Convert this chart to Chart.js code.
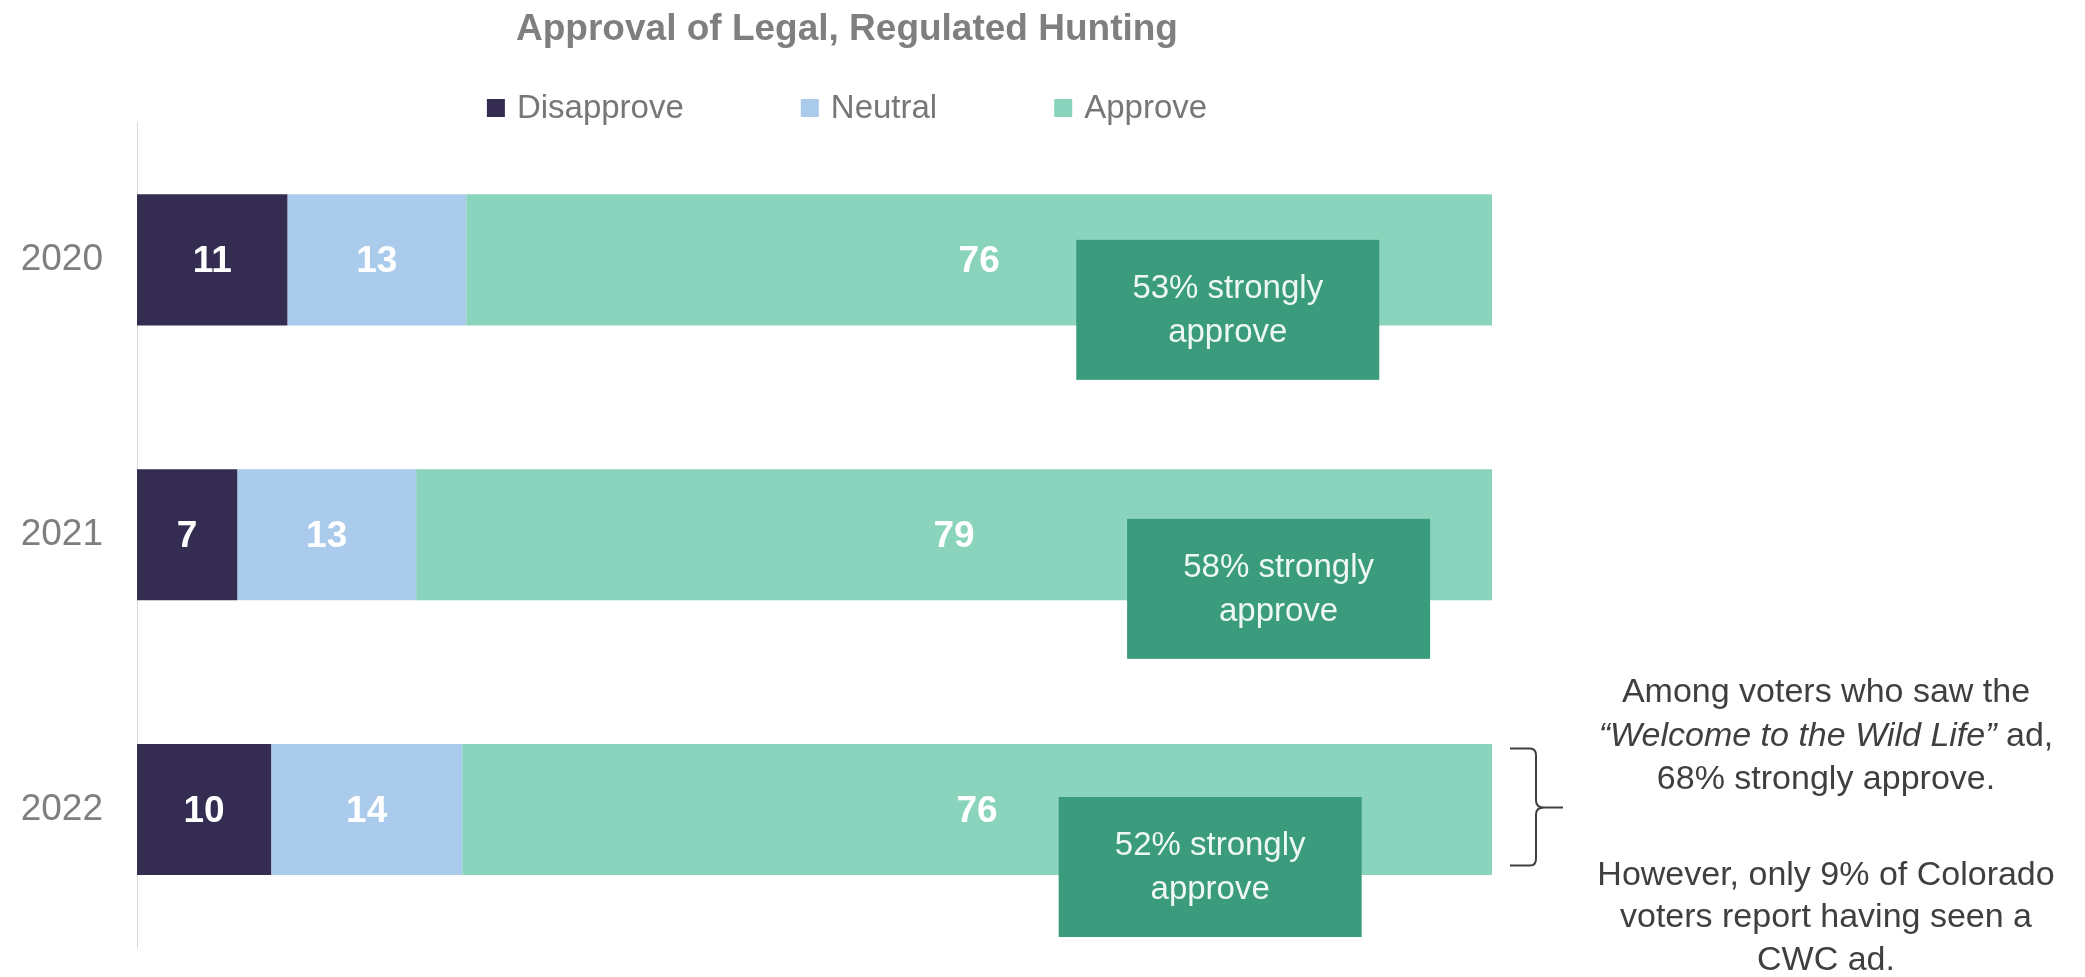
<!DOCTYPE html>
<html>
<head>
<meta charset="utf-8">
<script src="https://cdn.jsdelivr.net/npm/chart.js@4"></script>
<style>
  html, body { margin: 0; padding: 0; background: #fff; }
  #wrap { width: 2085px; height: 977px; }
</style>
</head>
<body>
<div id="wrap"><canvas id="myChart"></canvas></div>
<script>
const years = ['2020', '2021', '2022'];
// segment widths; labels show them rounded
const disapprove = [11.1, 7.4, 9.9];
const neutral = [13.2, 13.2, 14.1];
const approve = [75.7, 79.4, 76.0];
const stronglyApprove = [53, 58, 52];

const noteTop = [
  [{ t: 'Among voters who saw the' }],
  [{ t: '\u201cWelcome to the Wild Life\u201d', i: true }, { t: ' ad,' }],
  [{ t: '68% strongly approve.' }]
];
const noteBottom = ['However, only 9% of Colorado', 'voters report having seen a', 'CWC ad.'];

const FONT = '"Liberation Sans", Arial, sans-serif';

// where the "strongly approve" boxes sit: x in percent, y as offset from the bar centre (category units)
const boxSpots = [
  { x: 80.5, dy: 0.182 },
  { x: 84.25, dy: 0.197 },
  { x: 79.2, dy: 0.209 }
];

const barLabels = {
  id: 'barLabels',
  afterDatasetsDraw(chart) {
    const ctx = chart.ctx;
    ctx.save();
    ctx.font = 'bold 37px ' + FONT;
    ctx.fillStyle = '#ffffff';
    ctx.textAlign = 'center';
    ctx.textBaseline = 'middle';
    chart.data.datasets.forEach((ds, di) => {
      chart.getDatasetMeta(di).data.forEach((bar, i) => {
        const p = bar.getProps(['x', 'base', 'y'], true);
        ctx.fillText(String(Math.round(ds.data[i])), (p.x + p.base) / 2, p.y + 2);
      });
    });
    ctx.restore();
  }
};

const notes = {
  id: 'notes',
  afterDraw(chart) {
    const ctx = chart.ctx;
    const xs = chart.scales.x;
    const ys = chart.scales.y;
    ctx.save();

    // strongly approve boxes
    boxSpots.forEach((s, i) => {
      const cx = xs.getPixelForValue(s.x);
      const cy = ys.getPixelForValue(i + s.dy);
      const w = 303, h = 140;
      ctx.fillStyle = '#3a9b7d';
      ctx.fillRect(cx - w / 2, cy - h / 2, w, h);
      ctx.fillStyle = '#eef8f3';
      ctx.font = '33px ' + FONT;
      ctx.textAlign = 'center';
      ctx.textBaseline = 'middle';
      ctx.fillText(stronglyApprove[i] + '% strongly', cx, cy - 21);
      ctx.fillText('approve', cx, cy + 23);
    });

    // brace next to 2022
    const c = ys.getPixelForValue(2);
    const bx = chart.chartArea.right + 44;
    ctx.strokeStyle = '#404040';
    ctx.lineWidth = 2;
    ctx.beginPath();
    ctx.moveTo(bx - 26, c - 61);
    ctx.lineTo(bx - 6, c - 61);
    ctx.quadraticCurveTo(bx, c - 61, bx, c - 54);
    ctx.lineTo(bx, c - 9);
    ctx.quadraticCurveTo(bx, c - 2, bx + 8, c - 2);
    ctx.lineTo(bx + 27, c - 2);
    ctx.moveTo(bx + 8, c - 2);
    ctx.quadraticCurveTo(bx, c - 2, bx, c + 5);
    ctx.lineTo(bx, c + 49);
    ctx.quadraticCurveTo(bx, c + 56, bx - 6, c + 56);
    ctx.lineTo(bx - 26, c + 56);
    ctx.stroke();

    // side note
    const nx = chart.chartArea.right + 334;
    ctx.fillStyle = '#3f3f3f';
    ctx.textBaseline = 'middle';
    ctx.textAlign = 'left';
    const tops = [-117, -73, -30];
    noteTop.forEach((parts, li) => {
      let total = 0;
      parts.forEach(p => {
        ctx.font = (p.i ? 'italic ' : '') + '34px ' + FONT;
        p.w = ctx.measureText(p.t).width;
        total += p.w;
      });
      let x = nx - total / 2;
      parts.forEach(p => {
        ctx.font = (p.i ? 'italic ' : '') + '34px ' + FONT;
        ctx.fillText(p.t, x, c + tops[li]);
        x += p.w;
      });
    });
    ctx.font = '34px ' + FONT;
    ctx.textAlign = 'center';
    const bottoms = [66, 108, 151];
    noteBottom.forEach((t, li) => ctx.fillText(t, nx, c + bottoms[li]));

    // legend
    const tb = chart.titleBlock;
    const mid = tb.left + tb.width / 2;
    const ly = 108;
    ctx.font = '33px ' + FONT;
    const items = chart.data.datasets.map(ds => ({
      text: ds.label, color: ds.backgroundColor, w: 18 + 12 + ctx.measureText(ds.label).width
    }));
    const gap = 117;
    let lx = mid - (items.reduce((a, it) => a + it.w, 0) + gap * (items.length - 1)) / 2;
    ctx.textAlign = 'left';
    items.forEach(it => {
      ctx.fillStyle = it.color;
      ctx.fillRect(lx, ly - 9, 18, 18);
      ctx.fillStyle = '#777777';
      ctx.fillText(it.text, lx + 30, ly + 1);
      lx += it.w + gap;
    });
    ctx.restore();
  }
};

new Chart('myChart', {
  type: 'bar',
  data: {
    labels: years,
    datasets: [
      { label: 'Disapprove', data: disapprove, backgroundColor: '#352d51' },
      { label: 'Neutral', data: neutral, backgroundColor: '#abcbec' },
      { label: 'Approve', data: approve, backgroundColor: '#8ad3bc' }
    ]
  },
  options: {
    indexAxis: 'y',
    responsive: true,
    maintainAspectRatio: false,
    animation: false,
    datasets: { bar: { categoryPercentage: 1, barPercentage: 0.477 } },
    layout: { padding: { left: 0, right: 391, top: 0, bottom: 30 } },
    scales: {
      x: { stacked: true, min: 0, max: 100, display: false },
      y: {
        stacked: true,
        grid: { display: false, drawTicks: false },
        border: { display: true, color: '#d9d9d9', width: 1 },
        ticks: { color: '#7f7f7f', font: { family: FONT, size: 37 }, padding: 34 },
        afterFit: s => { s.width = 137; s.paddingTop = 0; s.paddingBottom = 0; }
      },
      yRight: {
        type: 'linear',
        position: 'right',
        grid: { display: false, drawTicks: false },
        border: { display: false },
        ticks: { display: false },
        afterFit: s => { s.width = 202; }
      }
    },
    plugins: {
      legend: { display: false },
      tooltip: { enabled: false },
      title: {
        display: true,
        text: 'Approval of Legal, Regulated Hunting',
        color: '#7f7f7f',
        font: { family: FONT, size: 37, weight: 'bold' },
        padding: { top: 8, bottom: 70 }
      }
    }
  },
  plugins: [barLabels, notes]
});
</script>
</body>
</html>
